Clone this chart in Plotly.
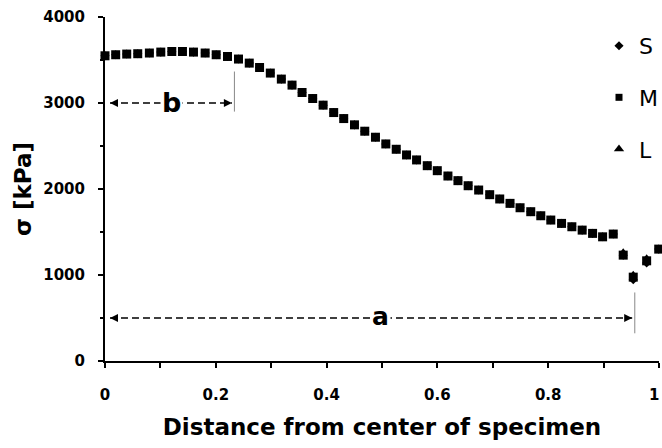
import plotly.graph_objects as go

# ---- data ----
x_main = [0.0, 0.0193, 0.0392, 0.0591, 0.0801, 0.1007, 0.1206, 0.1398, 0.1597, 0.1808,
          0.2007, 0.2211, 0.2410, 0.2604, 0.2790, 0.2984, 0.3183, 0.3376, 0.3557, 0.3749,
          0.3937, 0.4128, 0.4309, 0.4503, 0.4689, 0.4882, 0.5069, 0.5257, 0.5443, 0.5624,
          0.5817, 0.5998, 0.6190, 0.6371, 0.6555, 0.6745, 0.6944, 0.7125, 0.7311, 0.7492,
          0.7685, 0.7866, 0.8047, 0.8241, 0.8427, 0.8613, 0.8801, 0.8982, 0.9174,
          0.9354, 0.9535, 0.9777, 0.9995]
m_vals = [3549, 3561, 3569, 3573, 3581, 3592, 3599, 3599, 3592, 3581,
          3561, 3541, 3511, 3464, 3413, 3348, 3278, 3208, 3122, 3052,
          2975, 2889, 2819, 2746, 2672, 2602, 2524, 2462, 2396, 2338,
          2271, 2213, 2151, 2097, 2038, 1988, 1934, 1884, 1833, 1782,
          1736, 1689, 1639, 1600, 1561, 1522, 1484, 1444, 1476,
          1231, 975, 1165, 1301]
s_vals = m_vals[:49] + [1231, 945, 1140, 1301]
l_vals = m_vals[:49] + [1270, 1010, 1200, 1301]

series_names = ["S", "M", "L"]
series_symbols = {"S": "diamond", "M": "square", "L": "triangle-up"}

x_ticks = [0, 0.2, 0.4, 0.6, 0.8, 1]
x_tick_text = ["0", "0.2", "0.4", "0.6", "0.8", "1"]
y_ticks = [0, 1000, 2000, 3000, 4000]
y_tick_text = ["0", "1000", "2000", "3000", "4000"]

# annotation geometry (data units)
b_y, b_x0, b_x1, b_bar = 3000, 0.009, 0.229, 0.2336
a_y, a_x0, a_x1, a_bar = 500, 0.009, 0.9516, 0.9563

BOLD = "DejaVu Sans"
TICKFONT = dict(family=BOLD, size=15, color="black", weight="bold")

fig = go.Figure()
# data traces (S and L drawn first, squares on top)
fig.add_trace(go.Scatter(x=x_main, y=s_vals, mode="markers", name="S", showlegend=False,
                         cliponaxis=False,
                         marker=dict(symbol="diamond", size=7, color="black")))
fig.add_trace(go.Scatter(x=x_main, y=l_vals, mode="markers", name="L", showlegend=False,
                         cliponaxis=False,
                         marker=dict(symbol="triangle-up", size=7, color="black")))
fig.add_trace(go.Scatter(x=x_main, y=m_vals, mode="markers", name="M", showlegend=False,
                         cliponaxis=False,
                         marker=dict(symbol="square", size=9, color="black")))
# legend entries
legend_sizes = {"S": 7, "M": 7, "L": 9}
for nm in series_names:
    fig.add_trace(go.Scatter(x=[None], y=[None], mode="markers", name=nm, legendgroup=nm,
                             marker=dict(symbol=series_symbols[nm], size=legend_sizes[nm],
                                         color="black")))

shapes = []
dash = "7px,4px"
shapes.append(dict(type="line", x0=b_x0, x1=b_x1, y0=b_y, y1=b_y,
                   line=dict(color="black", width=1.6, dash=dash)))
shapes.append(dict(type="line", x0=b_bar, x1=b_bar, y0=2900, y1=3366,
                   line=dict(color="#888888", width=1)))
shapes.append(dict(type="line", x0=a_x0, x1=a_x1, y0=a_y, y1=a_y,
                   line=dict(color="black", width=1.6, dash=dash)))
shapes.append(dict(type="line", x0=a_bar, x1=a_bar, y0=322, y1=797,
                   line=dict(color="#888888", width=1)))

annotations = []
for xt, yt, dx in [(b_x0, b_y, 8), (b_x1, b_y, -8), (a_x0, a_y, 8), (a_x1, a_y, -8)]:
    annotations.append(dict(x=xt, y=yt, ax=dx, ay=0, text="", showarrow=True,
                            arrowhead=2, arrowsize=1, arrowwidth=1.6, arrowcolor="black"))
annotations.append(dict(x=0.12, y=b_y, text="b", showarrow=False, bgcolor="white",
                        font=dict(family="DejaVu Sans", size=27, color="black", weight=600),
                        yshift=1))
annotations.append(dict(x=0.497, y=a_y, text="a", showarrow=False, bgcolor="white",
                        font=dict(family="DejaVu Sans", size=25, color="black", weight=600),
                        yshift=2))
# the last x tick label sits at the very right edge; place it so it stays inside the page
annotations.append(dict(x=x_ticks[-1], y=0, text=x_tick_text[-1], showarrow=False,
                        xanchor="right", yanchor="middle", xshift=2, yshift=-34,
                        font=TICKFONT))
shown_x_text = x_tick_text[:-1] + [""]

fig.update_layout(
    width=662, height=448,
    margin=dict(l=105, r=3, t=17, b=87, autoexpand=False),
    paper_bgcolor="white", plot_bgcolor="white",
    showlegend=True,
    legend=dict(x=0.8917, y=0.977, xanchor="left", yanchor="top",
                font=dict(family="DejaVu Sans", size=22, color="black"),
                tracegroupgap=20, bgcolor="rgba(0,0,0,0)", itemsizing="trace"),
    shapes=shapes, annotations=annotations,
    xaxis=dict(range=[0, 1], tickvals=x_ticks, ticktext=shown_x_text, automargin=False,
               showline=True, linecolor="black", linewidth=2, showgrid=False, zeroline=False,
               ticks="outside", ticklen=5, tickwidth=1.5, tickcolor="black",
               minor=dict(dtick=0.1, tick0=0, ticks="outside", ticklen=5, tickwidth=1.5,
                          tickcolor="black", showgrid=False),
               tickfont=TICKFONT,
               ticklabelstandoff=14,
               title=dict(text="Distance from center of specimen", standoff=16,
                          font=dict(family=BOLD, size=23, color="black", weight="bold"))),
    yaxis=dict(range=[0, 4000], tickvals=y_ticks, ticktext=y_tick_text, automargin=False,
               ticklabeloverflow="allow",
               showline=True, linecolor="black", linewidth=2, showgrid=False, zeroline=False,
               ticks="outside", ticklen=5, tickwidth=1.5, tickcolor="black",
               minor=dict(dtick=500, tick0=0, ticks="outside", ticklen=3, tickwidth=1.5,
                          tickcolor="black", showgrid=False),
               tickfont=TICKFONT,
               ticklabelstandoff=10,
               title=dict(text="σ [kPa]", standoff=5,
                          font=dict(family=BOLD, size=23, color="black", weight="bold"))),
)

fig.write_html("out.html", config={"displayModeBar": False},
               post_script="document.body.style.margin='0px';")
